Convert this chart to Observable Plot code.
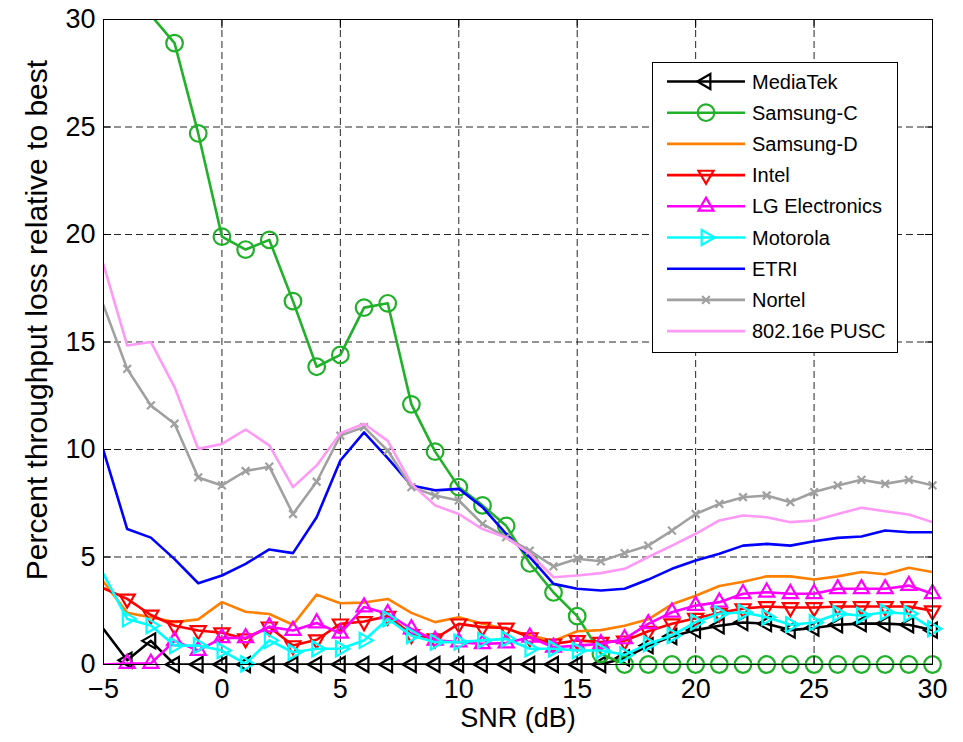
<!DOCTYPE html>
<html>
<head>
<meta charset="utf-8">
<script src="https://cdn.jsdelivr.net/npm/d3@7"></script>
<script src="https://cdn.jsdelivr.net/npm/@observablehq/plot@0.6"></script>
<style>
  body { margin: 0; background: white; }
  #wrap { position: relative; width: 963px; height: 742px; }
</style>
</head>
<body>
<div id="wrap"></div>
<script>
const snr = [-5,-4,-3,-2,-1,0,1,2,3,4,5,6,7,8,9,10,11,12,13,14,15,16,17,18,19,20,21,22,23,24,25,26,27,28,29,30];

const mediatek  = [1.65,0.2,1.1,0,0,0,0,0,0,0,0,0,0,0,0,0,0,0,0,0,0,0,0.3,0.88,1.3,1.6,1.8,1.95,1.9,1.6,1.7,1.85,1.9,1.9,1.85,1.6];
const samsungC  = [37,33.5,30.2,28.9,24.7,19.9,19.3,19.75,16.9,13.85,14.4,16.6,16.8,12.1,9.9,8.25,7.4,6.45,4.7,3.35,2.25,0.5,0,0,0,0,0,0,0,0,0,0,0,0,0,0];
const samsungD  = [3.85,2.4,2.2,1.97,2.1,2.9,2.45,2.35,1.85,3.25,2.85,2.88,3.05,2.4,1.97,2.2,1.9,1.65,1.35,1.1,1.55,1.6,1.8,2.1,2.8,3.2,3.65,3.85,4.1,4.1,3.95,4.1,4.3,4.2,4.5,4.3];
const intel     = [3.55,3.05,2.3,1.8,1.58,1.48,1.2,1.75,0.88,1.15,1.89,2.0,2.25,1.4,1.2,1.89,1.74,1.7,1.25,0.96,1.12,1.04,1.1,1.55,1.9,2.15,2.4,2.6,2.7,2.65,2.65,2.7,2.7,2.7,2.7,2.5];
const lg        = [0,0.05,0.05,1.1,0.65,1.24,1.24,1.75,1.58,1.93,1.45,2.67,2.36,1.65,1.12,1.04,0.96,1.0,1.27,0.8,0.88,0.96,1.19,1.89,2.43,2.74,2.9,3.29,3.36,3.29,3.29,3.52,3.52,3.52,3.67,3.29];
const motorola  = [4.2,2.12,1.81,0.88,0.88,0.65,0.03,1.12,0.57,0.73,0.73,1.12,2.12,1.35,1.04,1.04,1.12,1.19,0.73,0.73,0.65,0.65,0.45,0.96,1.35,1.97,2.36,2.43,2.2,1.85,1.95,2.36,2.28,2.43,2.36,1.66];
const etri      = [9.95,6.3,5.9,4.9,3.78,4.14,4.68,5.35,5.18,6.85,9.49,10.8,9.6,8.33,8.1,8.17,7.32,6.08,4.99,3.75,3.52,3.44,3.52,3.95,4.45,4.84,5.15,5.53,5.61,5.53,5.73,5.89,5.95,6.23,6.15,6.15];
const nortel    = [16.7,13.75,12.05,11.2,8.7,8.33,9.0,9.2,7.0,8.5,10.65,11.04,9.95,8.25,7.86,7.63,6.54,5.92,5.3,4.56,4.92,4.8,5.18,5.53,6.23,7.0,7.47,7.78,7.86,7.55,8.02,8.33,8.59,8.4,8.59,8.33];
const pusc      = [18.6,14.84,15.0,12.9,10.03,10.26,10.93,10.19,8.25,9.26,10.76,11.2,10.4,8.4,7.4,7.0,6.3,5.9,5.15,4.06,4.14,4.25,4.45,5.0,5.53,6.08,6.7,6.93,6.85,6.62,6.7,7.0,7.29,7.13,6.98,6.62];

const xTicks = [-5,0,5,10,15,20,25,30];
const yTicks = [0,5,10,15,20,25,30];
const xLabel = "SNR (dB)";
const yLabel = "Percent throughput loss relative to best";

const seriesNames = ["MediaTek","Samsung-C","Samsung-D","Intel","LG Electronics","Motorola","ETRI","Nortel","802.16e PUSC"];
const seriesValues = [mediatek, samsungC, samsungD, intel, lg, motorola, etri, nortel, pusc];
const seriesColors = ["#000000","#21b02a","#ff8000","#ff0000","#ff00ff","#00ffff","#0000ff","#a0a0a0","#ff99f5"];
const seriesSymbols = ["triangle","circle",null,"triangle","triangle","triangle",null,"times",null];
const seriesRotate = [-90,0,0,180,0,90,0,0,0];
const seriesR = [5.6,8.3,0,5.6,5.6,5.6,0,3.6,0];

const rows = [];
seriesNames.forEach((name, i) => {
  snr.forEach((x, j) => rows.push({series: name, x, y: seriesValues[i][j]}));
});

const marks = [
  Plot.gridX(xTicks, {stroke: "#000", strokeOpacity: 0.85, strokeDasharray: "7,4", strokeWidth: 1}),
  Plot.gridY(yTicks, {stroke: "#000", strokeOpacity: 0.85, strokeDasharray: "7,4", strokeWidth: 1})
];
seriesNames.forEach((name, i) => {
  const d = rows.filter(r => r.series === name);
  marks.push(Plot.line(d, {x: "x", y: "y", stroke: seriesColors[i], strokeWidth: 2.6, clip: true}));
  if (seriesSymbols[i]) {
    // markers are not shown at the left axis limit or above the top limit (as in the reference)
    marks.push(Plot.dot(d.filter(r => r.y <= 30 && r.x > -5), {
      x: "x", y: "y", symbol: seriesSymbols[i], r: seriesR[i], rotate: seriesRotate[i],
      stroke: seriesColors[i], fill: "none", strokeWidth: 2.2
    }));
  }
});
marks.push(
  Plot.frame({stroke: "#000", strokeWidth: 1}),
  Plot.axisX(xTicks, {anchor: "bottom", tickSize: 0, tickPadding: 14, fontSize: 27, label: xLabel, labelAnchor: "center", labelArrow: "none", labelOffset: 62}),
  Plot.axisX(xTicks, {anchor: "bottom", tickSize: -8, tickFormat: () => "", label: null}),
  Plot.axisX(xTicks, {anchor: "top", tickSize: -8, tickFormat: () => "", label: null}),
  Plot.axisY(yTicks, {anchor: "left", tickSize: 0, tickPadding: 8, fontSize: 27, label: null}),
  Plot.axisY(yTicks, {anchor: "left", tickSize: -8, tickFormat: () => "", label: null}),
  Plot.axisY(yTicks, {anchor: "right", tickSize: -8, tickFormat: () => "", label: null})
);

const chart = Plot.plot({
  width: 963, height: 742,
  marginLeft: 103, marginRight: 31, marginTop: 19, marginBottom: 78,
  style: {fontFamily: "'Liberation Sans', Arial, sans-serif", fontSize: "29px", background: "white", color: "#000"},
  x: {domain: [-5, 30]},
  y: {domain: [0, 30]},
  marks
});
document.getElementById("wrap").appendChild(chart);

// Y-axis title
d3.select(chart).append("text")
  .attr("transform", "translate(36,320) rotate(-90)")
  .attr("text-anchor", "middle").attr("dy", "0.35em")
  .attr("font-family", "'Liberation Sans', Arial, sans-serif").attr("font-size", 30)
  .attr("fill", "#000").text(yLabel);

// Legend overlay
const lg_ = d3.create("svg")
  .attr("width", 247).attr("height", 292)
  .style("position", "absolute").style("left", "652px").style("top", "62px");
lg_.append("rect").attr("x", 0.5).attr("y", 0.5).attr("width", 245).attr("height", 290)
  .attr("fill", "white").attr("stroke", "#000").attr("stroke-width", 1);
const symMap = {triangle: d3.symbolTriangle, circle: d3.symbolCircle, times: d3.symbolTimes || d3.symbolCross};
seriesNames.forEach((name, i) => {
  const cy = 19.5 + i * 31.2;
  lg_.append("line").attr("x1", 15).attr("x2", 93).attr("y1", cy).attr("y2", cy)
    .attr("stroke", seriesColors[i]).attr("stroke-width", 2.6);
  if (seriesSymbols[i]) {
    const r = seriesR[i];
    lg_.append("path")
      .attr("d", d3.symbol(symMap[seriesSymbols[i]], Math.PI * r * r)())
      .attr("transform", `translate(54,${cy}) rotate(${seriesRotate[i]})`)
      .attr("fill", "none").attr("stroke", seriesColors[i]).attr("stroke-width", 2.2);
  }
  lg_.append("text").attr("x", 100).attr("y", cy).attr("dy", "0.35em")
    .attr("font-family", "'Liberation Sans', Arial, sans-serif").attr("font-size", 20)
    .attr("fill", "#000").text(name);
});
document.getElementById("wrap").appendChild(lg_.node());
</script>
</body>
</html>
